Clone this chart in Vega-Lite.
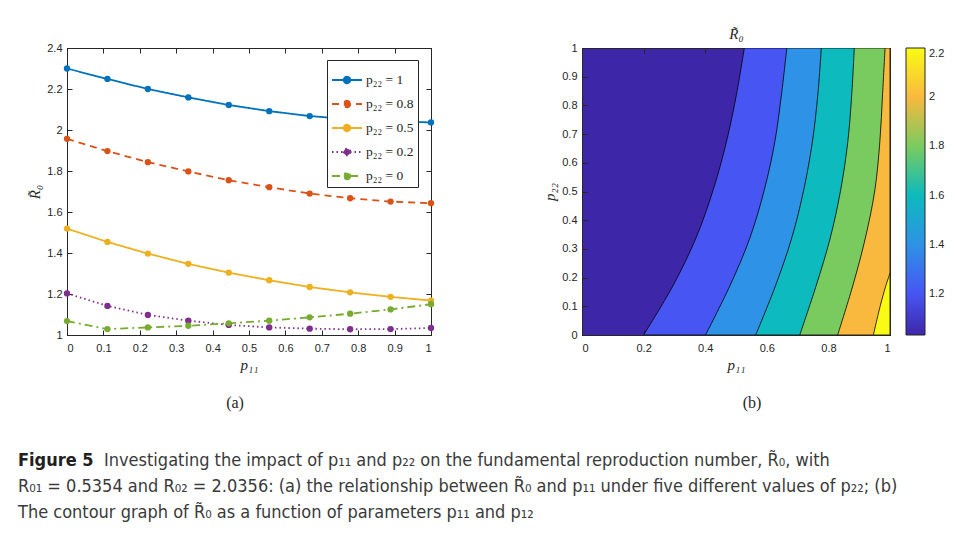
{
  "$schema": "https://vega.github.io/schema/vega-lite/v6.json",
  "background": "white",
  "padding": {"left": 18, "top": 26, "right": 5, "bottom": 5},
  "columns": 2,
  "align": "none",
  "bounds": "flush",
  "spacing": {"column": 151, "row": 131},
  "datasets": {
    "lines": [
      {"x": 0, "y": 2.300, "s": "p₂₂ = 1"}, {"x": 0.1111, "y": 2.249, "s": "p₂₂ = 1"}, {"x": 0.2222, "y": 2.200, "s": "p₂₂ = 1"}, {"x": 0.3333, "y": 2.159, "s": "p₂₂ = 1"}, {"x": 0.4444, "y": 2.122, "s": "p₂₂ = 1"}, {"x": 0.5556, "y": 2.092, "s": "p₂₂ = 1"}, {"x": 0.6667, "y": 2.068, "s": "p₂₂ = 1"}, {"x": 0.7778, "y": 2.053, "s": "p₂₂ = 1"}, {"x": 0.8889, "y": 2.043, "s": "p₂₂ = 1"}, {"x": 1, "y": 2.037, "s": "p₂₂ = 1"},
      {"x": 0, "y": 1.957, "s": "p₂₂ = 0.8"}, {"x": 0.1111, "y": 1.897, "s": "p₂₂ = 0.8"}, {"x": 0.2222, "y": 1.843, "s": "p₂₂ = 0.8"}, {"x": 0.3333, "y": 1.798, "s": "p₂₂ = 0.8"}, {"x": 0.4444, "y": 1.755, "s": "p₂₂ = 0.8"}, {"x": 0.5556, "y": 1.721, "s": "p₂₂ = 0.8"}, {"x": 0.6667, "y": 1.690, "s": "p₂₂ = 0.8"}, {"x": 0.7778, "y": 1.667, "s": "p₂₂ = 0.8"}, {"x": 0.8889, "y": 1.651, "s": "p₂₂ = 0.8"}, {"x": 1, "y": 1.643, "s": "p₂₂ = 0.8"},
      {"x": 0, "y": 1.519, "s": "p₂₂ = 0.5"}, {"x": 0.1111, "y": 1.454, "s": "p₂₂ = 0.5"}, {"x": 0.2222, "y": 1.397, "s": "p₂₂ = 0.5"}, {"x": 0.3333, "y": 1.347, "s": "p₂₂ = 0.5"}, {"x": 0.4444, "y": 1.304, "s": "p₂₂ = 0.5"}, {"x": 0.5556, "y": 1.267, "s": "p₂₂ = 0.5"}, {"x": 0.6667, "y": 1.234, "s": "p₂₂ = 0.5"}, {"x": 0.7778, "y": 1.208, "s": "p₂₂ = 0.5"}, {"x": 0.8889, "y": 1.186, "s": "p₂₂ = 0.5"}, {"x": 1, "y": 1.168, "s": "p₂₂ = 0.5"},
      {"x": 0, "y": 1.203, "s": "p₂₂ = 0.2"}, {"x": 0.1111, "y": 1.142, "s": "p₂₂ = 0.2"}, {"x": 0.2222, "y": 1.098, "s": "p₂₂ = 0.2"}, {"x": 0.3333, "y": 1.070, "s": "p₂₂ = 0.2"}, {"x": 0.4444, "y": 1.049, "s": "p₂₂ = 0.2"}, {"x": 0.5556, "y": 1.037, "s": "p₂₂ = 0.2"}, {"x": 0.6667, "y": 1.031, "s": "p₂₂ = 0.2"}, {"x": 0.7778, "y": 1.028, "s": "p₂₂ = 0.2"}, {"x": 0.8889, "y": 1.029, "s": "p₂₂ = 0.2"}, {"x": 1, "y": 1.034, "s": "p₂₂ = 0.2"},
      {"x": 0, "y": 1.068, "s": "p₂₂ = 0"}, {"x": 0.1111, "y": 1.029, "s": "p₂₂ = 0"}, {"x": 0.2222, "y": 1.037, "s": "p₂₂ = 0"}, {"x": 0.3333, "y": 1.045, "s": "p₂₂ = 0"}, {"x": 0.4444, "y": 1.057, "s": "p₂₂ = 0"}, {"x": 0.5556, "y": 1.070, "s": "p₂₂ = 0"}, {"x": 0.6667, "y": 1.086, "s": "p₂₂ = 0"}, {"x": 0.7778, "y": 1.104, "s": "p₂₂ = 0"}, {"x": 0.8889, "y": 1.125, "s": "p₂₂ = 0"}, {"x": 1, "y": 1.150, "s": "p₂₂ = 0"}
    ],
    "contour": [
      {"lvl": 1.2, "p22": 0, "p11": 0.200}, {"lvl": 1.2, "p22": 0.171, "p11": 0.295}, {"lvl": 1.2, "p22": 0.338, "p11": 0.370}, {"lvl": 1.2, "p22": 0.506, "p11": 0.426}, {"lvl": 1.2, "p22": 0.673, "p11": 0.469}, {"lvl": 1.2, "p22": 0.841, "p11": 0.502}, {"lvl": 1.2, "p22": 1, "p11": 0.527},
      {"lvl": 1.4, "p22": 0, "p11": 0.401}, {"lvl": 1.4, "p22": 0.171, "p11": 0.480}, {"lvl": 1.4, "p22": 0.338, "p11": 0.545}, {"lvl": 1.4, "p22": 0.506, "p11": 0.592}, {"lvl": 1.4, "p22": 0.673, "p11": 0.626}, {"lvl": 1.4, "p22": 0.841, "p11": 0.648}, {"lvl": 1.4, "p22": 1, "p11": 0.665},
      {"lvl": 1.6, "p22": 0, "p11": 0.564}, {"lvl": 1.6, "p22": 0.171, "p11": 0.628}, {"lvl": 1.6, "p22": 0.338, "p11": 0.681}, {"lvl": 1.6, "p22": 0.506, "p11": 0.720}, {"lvl": 1.6, "p22": 0.673, "p11": 0.748}, {"lvl": 1.6, "p22": 0.841, "p11": 0.766}, {"lvl": 1.6, "p22": 1, "p11": 0.777},
      {"lvl": 1.8, "p22": 0, "p11": 0.707}, {"lvl": 1.8, "p22": 0.171, "p11": 0.760}, {"lvl": 1.8, "p22": 0.338, "p11": 0.806}, {"lvl": 1.8, "p22": 0.506, "p11": 0.840}, {"lvl": 1.8, "p22": 0.673, "p11": 0.863}, {"lvl": 1.8, "p22": 0.841, "p11": 0.876}, {"lvl": 1.8, "p22": 1, "p11": 0.884},
      {"lvl": 2.0, "p22": 0, "p11": 0.830}, {"lvl": 2.0, "p22": 0.171, "p11": 0.879}, {"lvl": 2.0, "p22": 0.338, "p11": 0.920}, {"lvl": 2.0, "p22": 0.506, "p11": 0.951}, {"lvl": 2.0, "p22": 0.673, "p11": 0.967}, {"lvl": 2.0, "p22": 0.841, "p11": 0.976}, {"lvl": 2.0, "p22": 1, "p11": 0.984},
      {"lvl": 2.2, "p22": 0, "p11": 0.946}, {"lvl": 2.2, "p22": 0.1, "p11": 0.968}, {"lvl": 2.2, "p22": 0.17, "p11": 0.986}, {"lvl": 2.2, "p22": 0.215, "p11": 1.0}
    ],
    "caption": [
      {"line": 1, "part": "b", "t": "Figure 5"},
      {"line": 1, "part": "r", "t": "Investigating the impact of p₁₁ and p₂₂ on the fundamental reproduction number, R̃₀, with"},
      {"line": 2, "part": "n", "t": "R₀₁ = 0.5354 and R₀₂ = 2.0356: (a) the relationship between R̃₀ and p₁₁ under five different values of p₂₂; (b)"},
      {"line": 3, "part": "n", "t": "The contour graph of R̃₀ as a function of parameters p₁₁ and p₁₂"}
    ]
  },
  "concat": [
    {
      "width": 364,
      "height": 287,
      "title": {"text": "(a)", "orient": "bottom", "font": "Liberation Serif", "fontSize": 16, "fontWeight": "normal", "color": "#262626", "offset": 23, "dx": -14},
      "data": {"name": "lines"},
      "view": {"stroke": "#262626"},
      "layer": [
        {
          "mark": {"type": "line", "strokeWidth": 1.8},
          "encoding": {
            "x": {"field": "x", "type": "quantitative", "scale": {"domain": [0, 1], "nice": false},
                  "axis": {"title": "p₁₁", "labelPadding": 12, "values": [0, 0.1, 0.2, 0.3, 0.4, 0.5, 0.6, 0.7, 0.8, 0.9, 1], "format": "~g"}},
            "y": {"field": "y", "type": "quantitative", "scale": {"domain": [1, 2.4], "nice": false, "zero": false},
                  "axis": {"title": "R̃₀", "values": [1, 1.2, 1.4, 1.6, 1.8, 2, 2.2, 2.4], "format": "~g"}},
            "color": {"field": "s", "type": "nominal",
                      "scale": {"domain": ["p₂₂ = 1", "p₂₂ = 0.8", "p₂₂ = 0.5", "p₂₂ = 0.2", "p₂₂ = 0"], "range": ["#0072BD", "#D95319", "#EDB120", "#7E2F8E", "#77AC30"]},
                      "legend": {"orient": "none", "legendX": 260, "legendY": 12, "title": null, "fillColor": "white", "strokeColor": "#262626",
                                 "padding": 4, "rowPadding": 1, "symbolType": "M-1,0L1,0M0.22,0A0.22,0.22,0,1,1,-0.22,0A0.22,0.22,0,1,1,0.22,0Z",
                                 "symbolSize": 900, "symbolStrokeWidth": 1.8, "symbolOpacity": 1,
                                 "labelFont": "Liberation Serif", "labelFontSize": 13.5, "labelColor": "#262626", "labelOffset": 3,
                                 "encode": {"symbols": {"update": {"fill": {"signal": "datum.value === 'p₂₂ = 1' ? '#0072BD' : datum.value === 'p₂₂ = 0.8' ? '#D95319' : datum.value === 'p₂₂ = 0.5' ? '#EDB120' : datum.value === 'p₂₂ = 0.2' ? '#7E2F8E' : '#77AC30'"}}}}}},
            "strokeDash": {"field": "s", "type": "nominal",
                           "scale": {"domain": ["p₂₂ = 1", "p₂₂ = 0.8", "p₂₂ = 0.5", "p₂₂ = 0.2", "p₂₂ = 0"], "range": [[1, 0], [7, 5], [1, 0], [1.5, 3], [8, 4, 2, 4]]},
                           "legend": {"orient": "none", "legendX": 260, "legendY": 12, "title": null}}
          }
        },
        {
          "mark": {"type": "point", "filled": true, "opacity": 1, "size": 40, "strokeWidth": 0},
          "encoding": {
            "x": {"field": "x", "type": "quantitative", "axis": {"orient": "top", "labels": false, "title": null, "values": [0, 0.1, 0.2, 0.3, 0.4, 0.5, 0.6, 0.7, 0.8, 0.9, 1]}},
            "y": {"field": "y", "type": "quantitative", "axis": {"orient": "right", "labels": false, "title": null, "values": [1, 1.2, 1.4, 1.6, 1.8, 2, 2.2, 2.4]}},
            "color": {"field": "s", "type": "nominal"}
          }
        }
      ],
      "resolve": {"axis": {"x": "independent", "y": "independent"}}
    },
    {
      "width": 308,
      "height": 287,
      "title": {"text": "(b)", "orient": "bottom", "font": "Liberation Serif", "fontSize": 16, "fontWeight": "normal", "color": "#262626", "offset": 23, "dx": 16},
      "data": {"name": "contour"},
      "view": {"fill": "#3E26A8", "stroke": "#262626"},
      "layer": [
        {
          "mark": {"type": "area", "orient": "horizontal", "interpolate": "catmull-rom", "stroke": "black", "strokeWidth": 0.8, "fillOpacity": 1, "clip": true},
          "encoding": {
            "y": {"field": "p22", "type": "quantitative", "scale": {"domain": [0, 1], "nice": false},
                  "axis": {"title": "p₂₂", "values": [0, 0.1, 0.2, 0.3, 0.4, 0.5, 0.6, 0.7, 0.8, 0.9, 1], "format": "~g"}},
            "x": {"field": "p11", "type": "quantitative", "scale": {"domain": [0, 1], "nice": false},
                  "axis": {"title": "p₁₁", "labelPadding": 12, "values": [0, 0.2, 0.4, 0.6, 0.8, 1], "format": "~g"}},
            "x2": {"datum": 1},
            "detail": {"field": "lvl"},
            "color": {"field": "lvl", "type": "quantitative",
                      "scale": {"domain": [1.033, 1.2, 1.4, 1.6, 1.8, 2.0, 2.2], "range": ["#3E26A8", "#4755F3", "#2E92E6", "#0DBABD", "#7ACB5F", "#F9B93E", "#F9FB15"], "interpolate": "rgb"},
                      "legend": {"orient": "right", "offset": 15, "title": null, "gradientLength": 287, "gradientThickness": 19,
                                 "values": [1.2, 1.4, 1.6, 1.8, 2, 2.2], "format": "~g", "labelFont": "Liberation Sans", "labelFontSize": 11,
                                 "labelColor": "#262626", "gradientStrokeColor": "#262626", "gradientStrokeWidth": 1, "labelOffset": 4}}
          }
        },
        {
          "mark": {"type": "point", "opacity": 0},
          "encoding": {
            "x": {"field": "p11", "type": "quantitative", "axis": {"orient": "top", "labels": false, "title": "R̃₀", "titlePadding": 6, "values": [0, 0.2, 0.4, 0.6, 0.8, 1]}},
            "y": {"field": "p22", "type": "quantitative", "axis": {"orient": "right", "labels": false, "title": null, "values": [0, 0.1, 0.2, 0.3, 0.4, 0.5, 0.6, 0.7, 0.8, 0.9, 1]}}
          }
        }
      ],
      "resolve": {"axis": {"x": "independent", "y": "independent"}}
    },
    {
      "width": 300,
      "height": 52,
      "data": {"name": "caption"},
      "view": {"stroke": null},
      "layer": [
        {
          "transform": [{"filter": "datum.part === 'b'"}],
          "mark": {"type": "text", "align": "left", "baseline": "alphabetic", "font": "DejaVu Sans Condensed, sans-serif", "fontSize": 18, "fontWeight": "bold", "color": "#231F20", "dx": -49},
          "encoding": {"y": {"field": "line", "type": "ordinal", "scale": {"type": "point", "padding": 0}, "axis": null}, "x": {"value": 0}, "text": {"field": "t"}}
        },
        {
          "transform": [{"filter": "datum.part === 'r'"}],
          "mark": {"type": "text", "align": "left", "baseline": "alphabetic", "font": "DejaVu Sans Condensed, sans-serif", "fontSize": 18, "color": "#3a3a3a", "dx": 37},
          "encoding": {"y": {"field": "line", "type": "ordinal", "axis": null}, "x": {"value": 0}, "text": {"field": "t"}}
        },
        {
          "transform": [{"filter": "datum.part === 'n'"}],
          "mark": {"type": "text", "align": "left", "baseline": "alphabetic", "font": "DejaVu Sans Condensed, sans-serif", "fontSize": 18, "color": "#3a3a3a", "dx": -49},
          "encoding": {"y": {"field": "line", "type": "ordinal", "axis": null}, "x": {"value": 0}, "text": {"field": "t"}}
        }
      ]
    }
  ],
  "resolve": {"scale": {"color": "independent", "strokeDash": "independent"}, "legend": {"color": "independent", "strokeDash": "independent"}},
  "config": {
    "axis": {"grid": false, "tickSize": -5, "labelPadding": 10, "domainColor": "#262626", "tickColor": "#262626", "labelColor": "#262626",
             "labelFont": "Liberation Sans", "labelFontSize": 11, "titleFont": "Liberation Serif", "titleFontStyle": "italic",
             "titleFontWeight": "normal", "titleFontSize": 15, "titleColor": "#262626"},
    "legend": {"labelFont": "Liberation Sans"}
  }
}
